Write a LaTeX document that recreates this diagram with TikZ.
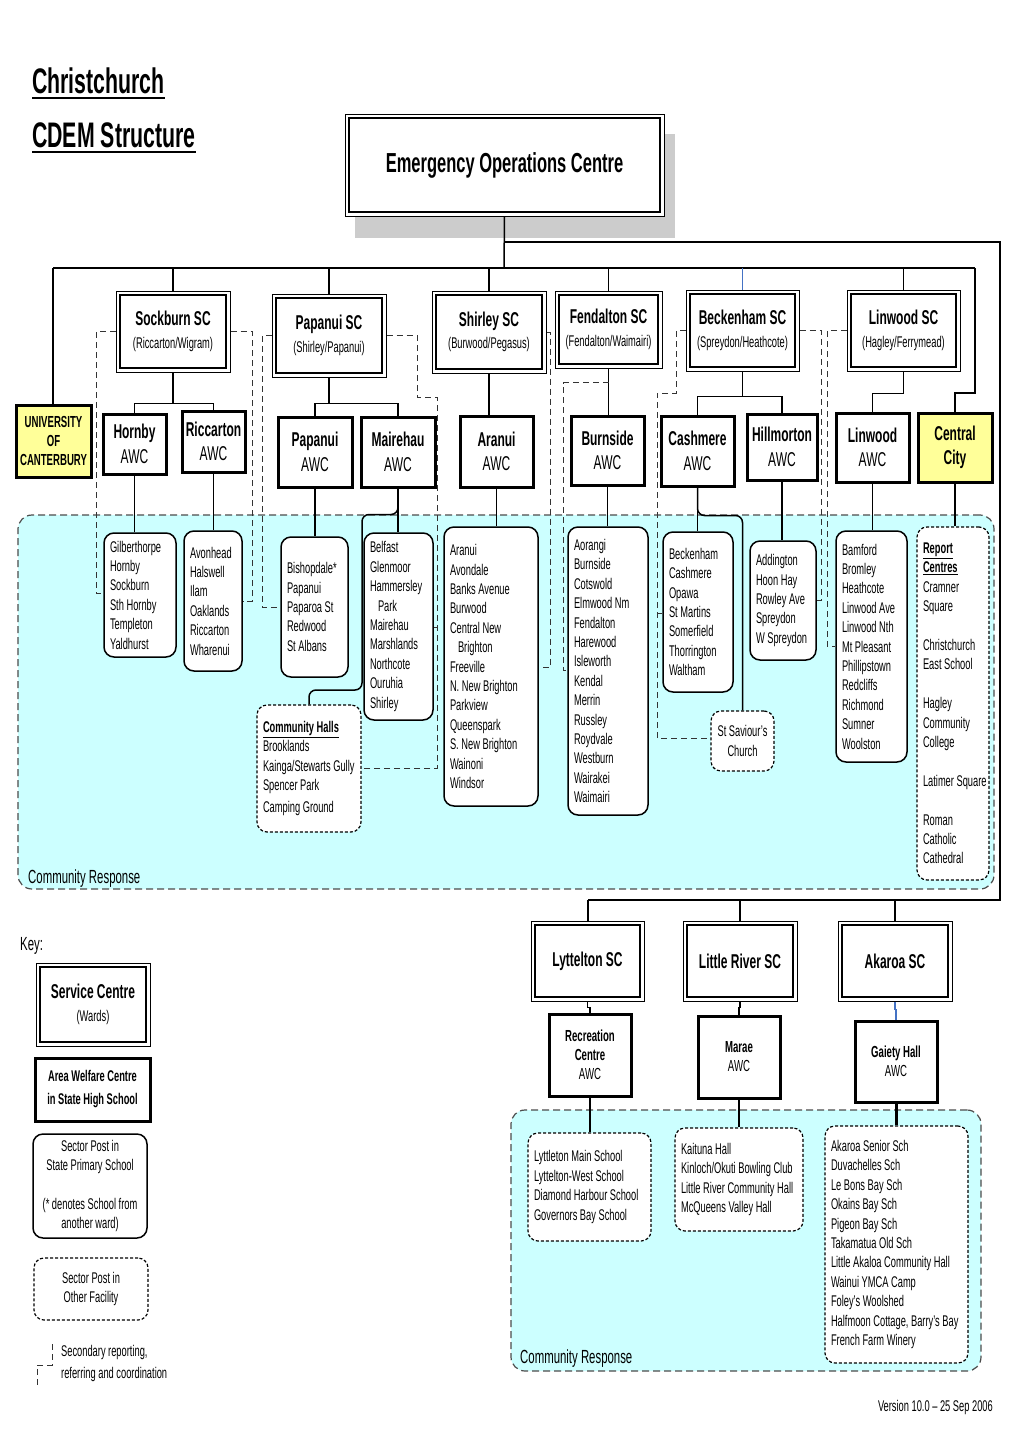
\documentclass[tikz,border=0pt]{standalone}
\usepackage{fontspec}
\setmainfont{Liberation Sans}[FakeStretch=0.6]
\usetikzlibrary{calc}
\definecolor{cyanbg}{HTML}{CCFFFF}
\definecolor{yelo}{HTML}{FFFF99}
\definecolor{shadegray}{HTML}{CCCCCC}
\definecolor{lnblue}{HTML}{4472C4}
\newcommand\fnList{\fontsize{15.5}{19.4}\selectfont}
\newcommand\fnAwc{\fontsize{20}{24.5}\selectfont}
\newcommand\fnTitle{\fontsize{20}{24}\selectfont\bfseries}
\newcommand\fnUni{\fontsize{16}{18.7}\selectfont\bfseries}
\newcommand\fnEoc{\fontsize{27.5}{32}\selectfont\bfseries}
\newcommand\fnHead{\fontsize{35.5}{42}\selectfont\bfseries}
\newcommand\fnCR{\fontsize{19}{23}\selectfont}
\newcommand\fnSmall{\fontsize{16}{19}\selectfont}
% centred box: name, style, x1,y1,x2,y2, text
\newcommand\bx[7]{%
 \pgfmathsetmacro\bxw{#5-#3}\pgfmathsetmacro\bxh{#6-#4}%
 \pgfmathsetmacro\bxt{#5-#3-4}\pgfmathsetmacro\bxx{(#3+#5)/2}\pgfmathsetmacro\bxy{(#4+#6)/2}%
 \node[minimum width=\bxw pt, minimum height=\bxh pt, text width=\bxt pt, #2] (#1) at (\bxx,\bxy) {#7};}
% list box (left aligned, margins)
\newcommand\lbx[7]{%
 \pgfmathsetmacro\bxw{#5-#3}\pgfmathsetmacro\bxh{#6-#4}%
 \pgfmathsetmacro\bxt{#5-#3-12}\pgfmathsetmacro\bxx{(#3+#5)/2}\pgfmathsetmacro\bxy{(#4+#6)/2}%
 \node[minimum width=\bxw pt, minimum height=\bxh pt, text width=\bxt pt, #2] (#1) at (\bxx,\bxy) {#7};}
% service centre double box
\newcommand\scb[6]{\bx{#1-o}{scout}{#2}{#3}{#4}{#5}{}\bx{#1}{scin}{(#2+4)}{(#3+4)}{(#4-4)}{(#5-4)}{#6}}
\begin{document}
\begin{tikzpicture}[x=1pt,y=-1pt,
 con/.style={line width=1.5pt},
 sec/.style={line width=1pt, dash pattern=on 6pt off 4pt, draw=black!80},
 scout/.style={draw, line width=1pt, fill=white, inner sep=0pt},
 scin/.style={draw, line width=2.3pt, fill=white, inner sep=0pt, align=flush center, font=\fnList},
 awc/.style={draw, line width=3pt, fill=white, inner sep=0pt, align=flush center, font=\fnAwc},
 sp/.style={draw, line width=1.5pt, rounded corners=10pt, fill=white, inner sep=0pt, align=flush left, font=\fnList},
 spd/.style={sp, line width=1.2pt, dash pattern=on 3pt off 2pt},
 crs/.style={draw=black!70, fill=cyanbg, line width=1.2pt, dash pattern=on 7pt off 4pt, rounded corners=14pt, inner sep=0pt},
 lbl/.style={inner sep=0pt}]
\useasboundingbox (0,0) rectangle (1020,1443);
\fill[white] (0,0) rectangle (1020,1443);

% titles
\node[anchor=base west, lbl, font=\fnHead] (t1) at (32,93) {Christchurch};
\node[anchor=base west, lbl, font=\fnHead] (t2) at (32,147) {CDEM Structure};
\draw[line width=2.6pt] ([yshift=-5pt]t1.base west) -- ([yshift=-5pt]t1.base east);
\draw[line width=2.6pt] ([yshift=-5pt]t2.base west) -- ([yshift=-5pt]t2.base east);

% EOC
\fill[shadegray] (355,134) rectangle (675,238);
\scb{eoc}{345}{114}{664}{216}{{\fnEoc Emergency Operations Centre}}

% community response areas
\bx{cr1}{crs}{18}{515}{994}{889}{}
\bx{cr2}{crs}{511}{1110}{981}{1371}{}
\node[anchor=base west, lbl, font=\fnCR] (crl1) at (28,883) {Community Response};
\node[anchor=base west, lbl, font=\fnCR] (crl2) at (520,1363) {Community Response};

% service centres
\scb{sock}{116}{291}{230}{372}{{\fnTitle Sockburn SC}\\[3pt](Riccarton/Wigram)}
\scb{pap}{272}{294}{386}{377}{{\fnTitle Papanui SC}\\[3pt](Shirley/Papanui)}
\scb{shir}{432}{291}{546}{373}{{\fnTitle Shirley SC}\\[3pt](Burwood/Pegasus)}
\scb{fend}{555}{291}{662}{368}{{\fnTitle Fendalton SC}\\[3pt]\mbox{(Fendalton/Waimairi)}}
\scb{beck}{686}{290}{799}{371}{{\fnTitle Beckenham SC}\\[3pt]\mbox{(Spreydon/Heathcote)}}
\scb{lin}{847}{290}{960}{371}{{\fnTitle Linwood SC}\\[3pt](Hagley/Ferrymead)}

% area welfare centres
\bx{uni}{awc, fill=yelo, font=\fnUni, text width=74pt}{16}{405}{91}{477}{UNIVERSITY\\OF\\CANTERBURY}
\bx{hornby}{awc}{103}{414}{166}{474}{\textbf{Hornby}\\AWC}
\bx{ricc}{awc}{182}{411}{245}{472}{\textbf{Riccarton}\\AWC}
\bx{papa}{awc}{278}{417}{352}{487}{\textbf{Papanui}\\AWC}
\bx{mair}{awc}{361}{417}{435}{487}{\textbf{Mairehau}\\AWC}
\bx{aranui}{awc}{460}{416}{533}{487}{\textbf{Aranui}\\AWC}
\bx{burn}{awc}{571}{416}{644}{485}{\textbf{Burnside}\\AWC}
\bx{cash}{awc}{661}{416}{734}{486}{\textbf{Cashmere}\\AWC}
\bx{hill}{awc}{747}{414}{817}{480}{\textbf{Hillmorton}\\AWC}
\bx{linawc}{awc}{836}{413}{909}{482}{\textbf{Linwood}\\AWC}
\bx{cc}{awc, fill=yelo, font=\fnAwc\bfseries}{918}{413}{992}{482}{Central\\City}

% sector posts
\lbx{gilb}{sp}{104}{533}{176}{657}{Gilberthorpe\\Hornby\\Sockburn\\Sth Hornby\\Templeton\\Yaldhurst}
\lbx{avon}{sp}{184}{531}{242}{671}{Avonhead\\Halswell\\Ilam\\Oaklands\\Riccarton\\Wharenui}
\lbx{bish}{sp}{281}{537}{348}{677}{Bishopdale*\\Papanui\\Paparoa St\\Redwood\\St Albans}
\lbx{belf}{sp}{364}{533}{433}{720}{Belfast\\Glenmoor\\Hammersley\\\hspace*{8pt}Park\\Mairehau\\Marshlands\\Northcote\\Ouruhia\\Shirley}
\lbx{halls}{spd}{257}{705}{361}{832}{\mbox{\underline{\textbf{Community Halls}}}\\Brooklands\\\mbox{Kainga/Stewarts Gully}\\Spencer Park\\[3pt]Camping Ground}
\lbx{aranl}{sp}{444}{527}{538}{806}{Aranui\\Avondale\\Banks Avenue\\Burwood\\Central New\\\hspace*{8pt}Brighton\\Freeville\\\mbox{N. New Brighton}\\Parkview\\Queenspark\\\mbox{S. New Brighton}\\Wainoni\\Windsor}
\lbx{aor}{sp}{568}{527}{648}{815}{Aorangi\\Burnside\\Cotswold\\\mbox{Elmwood Nm}\\Fendalton\\Harewood\\Isleworth\\Kendal\\Merrin\\Russley\\Roydvale\\Westburn\\Wairakei\\Waimairi}
\lbx{bkl}{sp}{663}{532}{733}{692}{Beckenham\\Cashmere\\Opawa\\St Martins\\Somerfield\\Thorrington\\Waltham}
\bx{stsav}{spd, align=flush center}{711}{711}{774}{771}{St Saviour’s\\Church}
\lbx{addi}{sp}{750}{541}{816}{660}{Addington\\Hoon Hay\\Rowley Ave\\Spreydon\\\mbox{W Spreydon}}
\lbx{bamf}{sp}{836}{531}{907}{762}{Bamford\\Bromley\\Heathcote\\\mbox{Linwood Ave}\\\mbox{Linwood Nth}\\Mt Pleasant\\Phillipstown\\Redcliffs\\Richmond\\Sumner\\Woolston}
\lbx{rep}{spd}{917}{527}{989}{880}{\underline{\textbf{Report}}\\\underline{\textbf{Centres}}\\Cramner\\Square\\[19.4pt]\mbox{Christchurch}\\\mbox{East School}\\[19.4pt]Hagley\\Community\\College\\[19.4pt]\mbox{Latimer Square}\\[19.4pt]Roman\\Catholic\\Cathedral}

% Banks Peninsula
\scb{lyt}{531}{921}{644}{1001}{{\fnTitle Lyttelton SC}}
\scb{lr}{683}{921}{797}{1001}{{\fnTitle Little River SC}}
\scb{ak}{838}{921}{952}{1001}{{\fnTitle Akaroa SC}}
\bx{rec}{awc, font=\fnSmall}{549}{1014}{631}{1096}{\textbf{Recreation}\\\textbf{Centre}\\AWC}
\bx{marae}{awc, font=\fnSmall}{698}{1016}{780}{1098}{\textbf{Marae}\\AWC}
\bx{gaiety}{awc, font=\fnSmall}{855}{1021}{937}{1102}{\textbf{Gaiety Hall}\\AWC}
\lbx{lytl}{spd}{528}{1133}{651}{1241}{\mbox{Lyttleton Main School}\\\mbox{Lyttelton-West School}\\\mbox{Diamond Harbour School}\\\mbox{Governors Bay School}}
\lbx{lrl}{spd}{675}{1128}{803}{1231}{Kaituna Hall\\\mbox{Kinloch/Okuti Bowling Club}\\\mbox{Little River Community Hall}\\\mbox{McQueens Valley Hall}}
\lbx{akl}{spd}{825}{1126}{968}{1363}{Akaroa Senior Sch\\Duvachelles Sch\\Le Bons Bay Sch\\Okains Bay Sch\\Pigeon Bay Sch\\Takamatua Old Sch\\\mbox{Little Akaloa Community Hall}\\Wainui YMCA Camp\\Foley’s Woolshed\\\mbox{Halfmoon Cottage, Barry’s Bay}\\French Farm Winery}

% key
\node[anchor=base west, lbl, font=\fnCR] (key) at (20,950) {Key:};
\scb{kserv}{36}{963}{150}{1046}{{\fnTitle Service Centre}\\[3pt](Wards)}
\bx{kawc}{awc, font=\fnList\bfseries}{35}{1058}{150}{1121}{\mbox{Area Welfare Centre}\\[3.6pt]\mbox{in State High School}}
\bx{ksp}{sp, align=flush center}{33}{1134}{147}{1238}{Sector Post in\\\mbox{State Primary School}\\[19.4pt]\mbox{(* denotes School from}\\another ward)}
\bx{kof}{spd, align=flush center}{34}{1258}{148}{1320}{Sector Post in\\Other Facility}
\coordinate (k1) at (52,1344);
\coordinate (k2) at (37,1365);
\coordinate (k3) at (37,1388);
\draw[sec] (k1) |- (k2) -- (k3);
\node[anchor=west, lbl, font=\fnList] (ks1) at (61,1352) {Secondary reporting,};
\node[anchor=west, lbl, font=\fnList] (ks2) at (61,1374) {referring and coordination};
\node[anchor=base east, lbl, font=\fnList] (ver) at (993,1411) {Version 10.0 -- 25 Sep 2006};

% main connectors
\coordinate (b0) at (504,268);
\coordinate (bl) at (53,268);
\coordinate (br) at (975,268);
\coordinate (f1) at (504,242);
\coordinate (f2) at (1000,242);
\coordinate (f3) at (1000,900);
\coordinate (f4) at (588,900);
\draw[con] (eoc-o.south) -- (b0);
\draw[con] (f1) -- (f2) -- (f3) -- (f4);
\draw[con] (bl) -- (br);
\draw[con] (bl) -- (bl |- uni.north);
\draw[con] (sock-o.north |- bl) -- (sock-o.north);
\draw[con] (pap-o.north |- bl) -- (pap-o.north);
\draw[con] (shir-o.north |- bl) -- (shir-o.north);
\draw[con] (fend-o.north |- bl) -- (fend-o.north);
\draw[line width=1pt, draw=lnblue] (beck-o.north |- bl) -- (beck-o.north);
\draw[con] (lin-o.north |- bl) -- (lin-o.north);
\draw[con] (br) -- (975,393) -| (cc.north);

\draw[con] (sock-o.south) -- ++(0,31) -| (hornby.north);
\draw[con] (sock-o.south) ++(0,31) -| (ricc.north);
\draw[con] (pap-o.south) -- ++(0,26) -| (papa.north);
\draw[con] (pap-o.south) ++(0,26) -| (mair.north);
\draw[con] (shir-o.south) -- (shir-o.south |- aranui.north);
\draw[con] (fend-o.south) -- (fend-o.south |- burn.north);
\draw[con] (beck-o.south) -- ++(0,25) -| (cash.north);
\draw[con] (beck-o.south) ++(0,25) -| (hill.north);
\draw[con] (lin-o.south) -- ++(0,22) -| (linawc.north);

\draw[con] (hornby.south) -- (hornby.south |- gilb.north);
\draw[con] (ricc.south) -- (ricc.south |- avon.north);
\draw[con] (papa.south) -- (papa.south |- bish.north);
\draw[con] (mair.south) -- (mair.south |- belf.north);
\draw[con, rounded corners=7pt] (mair.south) -- ++(0,26) -| (362,690) -| (halls.north);
\draw[con] (aranui.south) -- (aranui.south |- aranl.north);
\draw[con] (burn.south) -- (burn.south |- aor.north);
\draw[con] (cash.south) -- (cash.south |- bkl.north);
\draw[con, rounded corners=7pt] (cash.south) -- ++(0,28) -| (stsav.north);
\draw[con] (hill.south) -- (hill.south |- addi.north);
\draw[con] (linawc.south) -- (linawc.south |- bamf.north);
\draw[con] (cc.south) -- (cc.south |- rep.north);

% peninsula connectors
\draw[con] (f4) -- (f4 |- lyt-o.north);
\draw[con] (lr-o.north |- f4) -- (lr-o.north);
\draw[con] (ak-o.north |- f4) -- (ak-o.north);
\draw[con] (lyt-o.south) -- ++(0,6) -| (rec.north);
\draw[con] (lr-o.south) -- ++(0,6) -| (marae.north);
\draw[line width=1.2pt, draw=lnblue] (ak-o.south) -- ++(0,8) -| (gaiety.north);
\draw[con] (rec.south) -- (rec.south |- lytl.north);
\draw[con] (marae.south) -- (marae.south |- lrl.north);
\draw[line width=3pt] (gaiety.south) -- (gaiety.south |- akl.north);

% secondary reporting (dashed)
\coordinate (d1) at (96,593);
\draw[sec] (sock-o.west) -| (d1) -- (d1 -| gilb.west);
\coordinate (d2) at (252,601);
\draw[sec] (sock-o.east) -| (d2) -- (d2 -| avon.east);
\coordinate (d3) at (262,607);
\draw[sec] (pap-o.west) -| (d3) -- (d3 -| bish.west);
\coordinate (d4a) at (417,397);
\coordinate (d4b) at (437,768);
\coordinate (d4c) at (437,627);
\draw[sec] (pap-o.east) -| (d4a) -| (d4b) -- (d4b -| halls.east);
\draw[sec] (d4c) -- (d4c -| belf.east);
\coordinate (d5) at (550,667);
\draw[sec] (shir-o.east) -| (d5) -- (d5 -| aranl.east);
\coordinate (d6) at (563,670);
\draw[sec] ($(fend-o.south)+(0,14)$) -| (d6) -- (d6 -| aor.west);
\coordinate (d7a) at (676,393);
\coordinate (d7b) at (657,738);
\coordinate (d7c) at (657,613);
\draw[sec] (beck-o.west) -| (d7a) -| (d7b) -- (d7b -| stsav.west);
\draw[sec] (d7c) -- (d7c -| bkl.west);
\coordinate (d8) at (821,600);
\draw[sec] (beck-o.east) -| (d8) -- (d8 -| addi.east);
\coordinate (d9) at (827,646);
\draw[sec] (lin-o.west) -| (d9) -- (d9 -| bamf.west);
\end{tikzpicture}
\end{document}
